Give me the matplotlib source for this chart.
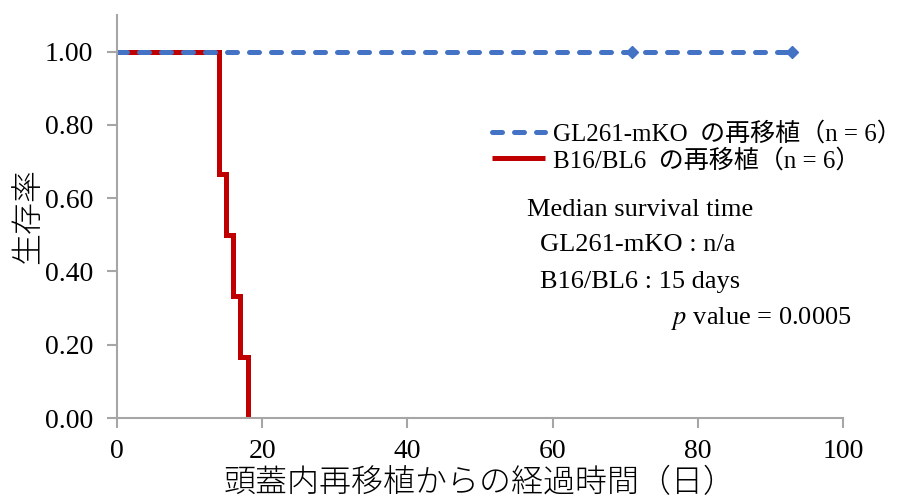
import matplotlib.pyplot as plt
import numpy as np

plt.rcParams['font.family'] = ['Liberation Serif', 'Noto Sans CJK JP']
plt.rcParams['font.size'] = 19

# Kaplan-Meier step data
gl_days = [0, 71, 93]
gl_surv = [1.0, 1.0, 1.0]
gl_censor_days = [71, 93]
gl_censor_surv = [1.0, 1.0]

b16_days = [0, 14, 15, 16, 17, 18]
b16_surv = [1.0, 0.667, 0.5, 0.333, 0.167, 0.0]

xticks = [0, 20, 40, 60, 80, 100]
yticks = [0.0, 0.2, 0.4, 0.6, 0.8, 1.0]

blue = '#4472C4'
red = '#C00000'
grey = '#A6A6A6'

fig = plt.figure(figsize=(9.16, 4.99), dpi=100)
ax = fig.add_axes([117 / 916, 1 - 418 / 499, (843 - 117) / 916, (418 - 15) / 499])

ax.step(b16_days, b16_surv, where='post', color=red, lw=3.6,
        solid_capstyle='butt', solid_joinstyle='miter',
        label='B16/BL6  の再移植（n = 6）')
ax.plot(gl_days, gl_surv, color=blue, lw=3.6, dashes=(2.0, 2.4),
        dash_capstyle='round', label='GL261-mKO  の再移植（n = 6）')
ax.plot(gl_censor_days, gl_censor_surv, ls='none', marker='D', ms=6,
        color=blue)

ax.set_xlim(0, 100)
ax.set_ylim(0, 1.1)
ax.set_xticks(xticks)
ax.set_yticks(yticks)
ax.set_yticklabels([f'{v:.2f}' for v in yticks])
ax.tick_params(direction='out', length=7, width=1.5, color=grey, pad=10,
               labelsize=20)
ax.tick_params(axis='x', pad=8)

for side in ('top', 'right'):
    ax.spines[side].set_visible(False)
for side in ('left', 'bottom'):
    ax.spines[side].set_color(grey)
    ax.spines[side].set_linewidth(1.5)

ax.set_xlabel('頭蓋内再移植からの経過時間（日）', fontsize=23,
              family=['Noto Sans CJK JP'], fontweight='light', labelpad=1)
ax.set_ylabel('生存率', fontsize=23, family=['Noto Sans CJK JP'],
              fontweight='light', labelpad=0)

handles, labels = ax.get_legend_handles_labels()
leg = fig.legend(handles[::-1], labels[::-1], loc='upper left',
                 bbox_to_anchor=(482 / 916, 1 - 112 / 499), frameon=False,
                 handlelength=2.1, handletextpad=0.35, labelspacing=0.1,
                 borderaxespad=0, prop={'family': ['Liberation Serif', 'Noto Sans CJK JP'], 'size': 18})

fig.text(527 / 916, 1 - 210 / 499, 'Median survival time', va='center', fontsize=19)
fig.text(540 / 916, 1 - 245 / 499, 'GL261-mKO : n/a', va='center', fontsize=19)
fig.text(540 / 916, 1 - 282 / 499, 'B16/BL6 : 15 days', va='center', fontsize=19)
fig.text(852 / 916, 1 - 319 / 499, r'$p$ value = 0.0005', va='center', ha='right',
         fontsize=19, math_fontfamily='stix')

fig.savefig('out.png', dpi=100)
